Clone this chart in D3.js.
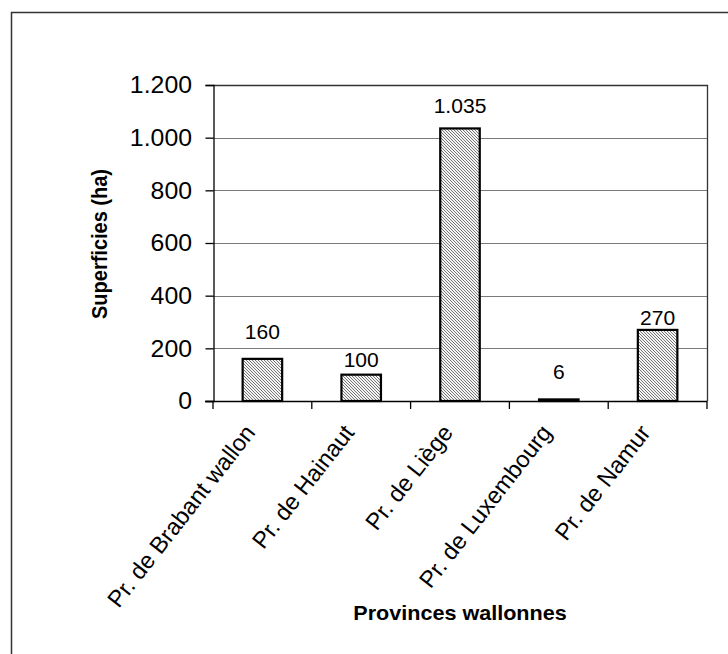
<!DOCTYPE html>
<html>
<head>
<meta charset="utf-8">
<script src="https://cdn.jsdelivr.net/npm/d3@7"></script>
<style>
  body { margin: 0; background: #fff; }
  text { font-family: "Liberation Sans", Arial, sans-serif; fill: #000; }
</style>
</head>
<body>
<div id="chart"></div>
<script>
// chart data
const provinces = ["Pr. de Brabant wallon", "Pr. de Hainaut", "Pr. de Liège", "Pr. de Luxembourg", "Pr. de Namur"]
const surfaces = [160, 100, 1035, 6, 270]
const yTicks = [0, 200, 400, 600, 800, 1000, 1200]
// how far each value label sits above its bar (px), as in the original
const labelLift = [20, 8, 15, 20, 5]

function main(){
  const width = 728
  const height = 654
  const margin = {top: 85, right: 21, bottom: 253, left: 213}
  const sx = 1.08 // the original is slightly stretched sideways

  const svg = d3.select("#chart")
    .append("svg")
    .attr("width", width)
    .attr("height", height)

  // hatch fill used by the bars
  const pat = svg.append("defs").append("pattern")
    .attr("id", "hatch")
    .attr("patternUnits", "userSpaceOnUse")
    .attr("width", 3)
    .attr("height", 3)
  pat.append("rect").attr("width", 3).attr("height", 3).attr("fill", "#f4f4f4")
  pat.append("path")
    .attr("d", "M-1,-1 L4,4 M-1,2 L1,4 M2,-1 L4,1")
    .attr("stroke", "#707070")
    .attr("stroke-width", 0.95)

  // outer frame (only left and top are inside the picture)
  svg.append("path")
    .attr("d", `M11.5,${height} L11.5,12.5 L${width},12.5`)
    .attr("fill", "none")
    .attr("stroke", "#333")
    .attr("stroke-width", 1.5)

  const x0 = margin.left, x1 = width - margin.right
  const y0 = height - margin.bottom, y1 = margin.top

  const x = d3.scaleBand()
    .domain(provinces)
    .range([x0, x1])
    .paddingInner(0.6)
    .paddingOuter(0.3)

  const y = d3.scaleLinear()
    .domain([0, 1200])
    .range([y0, y1])

  const fmt = d3.formatLocale({decimal: ",", thousands: ".", grouping: [3], currency: ["", " €"]}).format(",d")

  // grid lines
  svg.append("g")
    .selectAll("line")
    .data(yTicks.filter(d => d > 0))
    .join("line")
    .attr("x1", x0).attr("x2", x1)
    .attr("y1", d => Math.round(y(d)) + 0.5)
    .attr("y2", d => Math.round(y(d)) + 0.5)
    .attr("stroke", "#7a7a7a")
    .attr("stroke-width", 1)

  // plot box right + top border
  svg.append("path")
    .attr("d", `M${x0},${y1 + 0.5} L${x1 + 0.5},${y1 + 0.5} L${x1 + 0.5},${y0}`)
    .attr("fill", "none")
    .attr("stroke", "#333")
    .attr("stroke-width", 1.3)

  // y axis
  const yAxis = svg.append("g")
    .attr("transform", `translate(${x0 + 0.5},0)`)
    .call(d3.axisLeft(y).tickValues(yTicks).tickSize(8).tickFormat(""))
  yAxis.select(".domain").attr("stroke", "#000").attr("stroke-width", 1.3)
  yAxis.selectAll(".tick line").attr("stroke", "#000").attr("stroke-width", 1.3)

  svg.append("g")
    .selectAll("text")
    .data(yTicks)
    .join("text")
    .attr("transform", d => `translate(192,${y(d)}) scale(${sx},1)`)
    .attr("dy", "0.36em")
    .attr("text-anchor", "end")
    .style("font-size", "23px")
    .text(d => fmt(d))

  // x axis with ticks at category boundaries
  const bounds = d3.range(provinces.length + 1).map(i => x0 + i * (x1 - x0) / provinces.length)
  svg.append("g")
    .selectAll("line")
    .data(bounds)
    .join("line")
    .attr("x1", d => d).attr("x2", d => d)
    .attr("y1", y0).attr("y2", y0 + 8)
    .attr("stroke", "#000")
    .attr("stroke-width", 1.3)

  // bars
  svg.append("g")
    .selectAll("rect")
    .data(surfaces)
    .join("rect")
    .attr("x", (d, i) => x(provinces[i]))
    .attr("width", x.bandwidth())
    .attr("y", d => y(d))
    .attr("height", d => y(0) - y(d))
    .attr("fill", "url(#hatch)")
    .attr("stroke", "#000")
    .attr("stroke-width", 2.2)

  svg.append("line")
    .attr("x1", x0 - 8).attr("x2", x1)
    .attr("y1", y0 + 0.5).attr("y2", y0 + 0.5)
    .attr("stroke", "#000")
    .attr("stroke-width", 1.3)

  // value labels
  svg.append("g")
    .selectAll("text")
    .data(surfaces)
    .join("text")
    .attr("transform", (d, i) => `translate(${x(provinces[i]) + x.bandwidth() / 2},${y(d) - labelLift[i]}) scale(${sx},1)`)
    .attr("text-anchor", "middle")
    .style("font-size", "19.5px")
    .text(d => fmt(d))

  // category labels, rotated
  svg.append("g")
    .selectAll("text")
    .data(provinces)
    .join("text")
    .attr("transform", d => `translate(${x(d) + x.bandwidth() / 2 - 6},${y0 + 32}) rotate(-52)`)
    .attr("text-anchor", "end")
    .style("font-size", "23.5px")
    .text(d => d)

  // axis titles
  svg.append("text")
    .attr("transform", `translate(${(x0 + x1) / 2},620) scale(${sx},1)`)
    .attr("text-anchor", "middle")
    .style("font-size", "20px")
    .style("font-weight", "bold")
    .text("Provinces wallonnes")

  svg.append("text")
    .attr("transform", `translate(107,244) scale(${sx},1) rotate(-90)`)
    .attr("text-anchor", "middle")
    .style("font-size", "20px")
    .style("font-weight", "bold")
    .text("Superficies (ha)")
}
main();
</script>
</body>
</html>
